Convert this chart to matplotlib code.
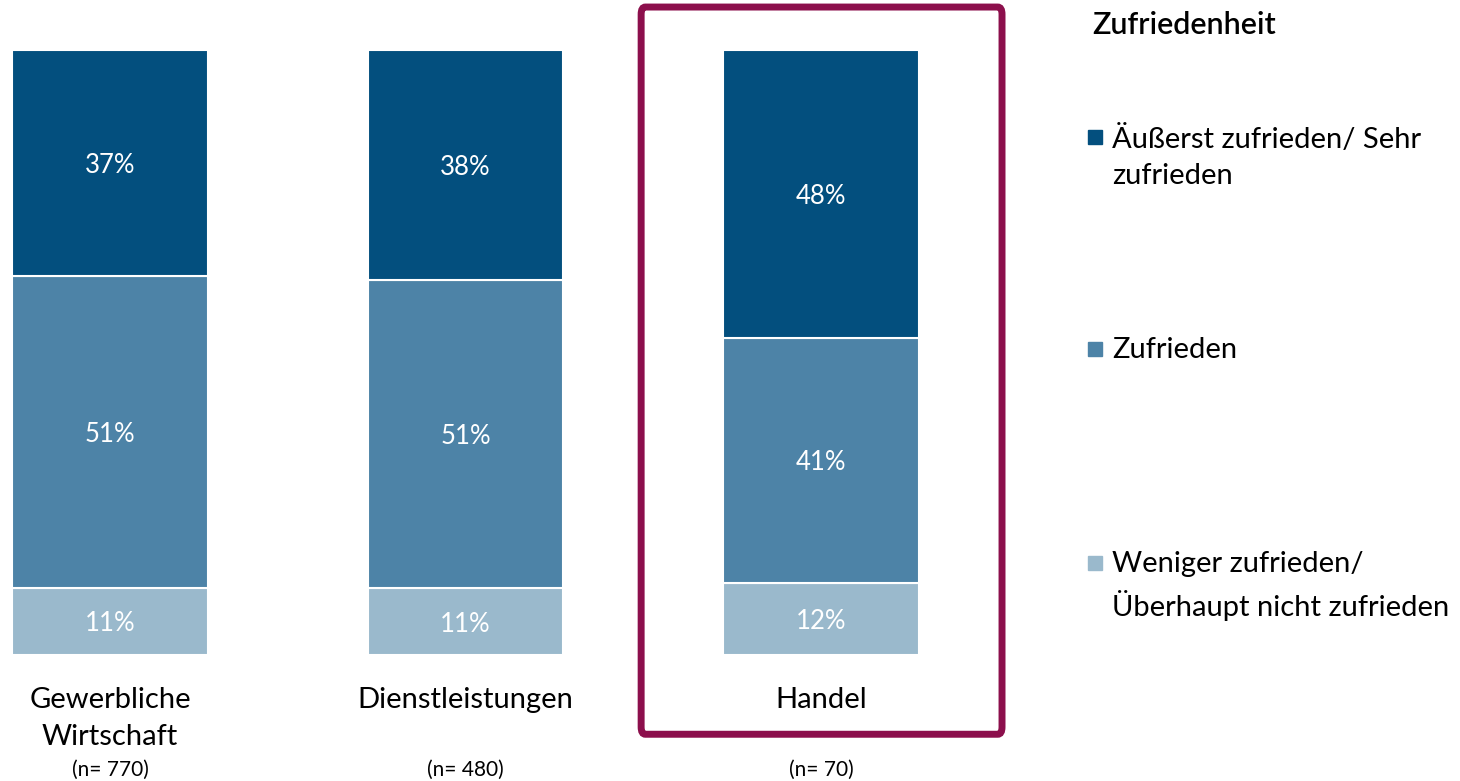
import matplotlib.pyplot as plt
from matplotlib.patches import FancyBboxPatch, Rectangle
import numpy as np

plt.rcParams['font.family'] = ['Lato', 'DejaVu Sans']

# Daten
categories = ['Gewerbliche\nWirtschaft', 'Dienstleistungen', 'Handel']
n_labels = ['(n= 770)', '(n= 480)', '(n= 70)']
series = ['Äußerst zufrieden/ Sehr\nzufrieden', 'Zufrieden', 'Weniger zufrieden/\nÜberhaupt nicht zufrieden']
sehr_zufrieden = [37, 38, 48]
zufrieden = [51, 51, 41]
weniger_zufrieden = [11, 11, 12]
colors = ['#034f7e', '#4d83a7', '#9ab9cc']

values = np.array([weniger_zufrieden, zufrieden, sehr_zufrieden], dtype=float)
shares = values / values.sum(axis=0)
x = np.arange(len(categories))

fig = plt.figure(figsize=(14.6, 7.81), dpi=100)
W, H = 1460, 781
ax = fig.add_axes([12 / W, 1 - 655 / H, (919 - 12) / W, (655 - 50) / H])

bar_w = 0.551
bottom = np.zeros(len(categories))
order = [2, 1, 0]  # index into series/colors for each stacked layer
for layer, s_idx in zip(range(3), order):
    ax.bar(x, shares[layer], bar_w, bottom=bottom, color=colors[s_idx],
           edgecolor='white', linewidth=1.5)
    for xi, b, h, v in zip(x, bottom, shares[layer], values[layer]):
        ax.text(xi, b + h / 2, f'{v:.0f}%', ha='center', va='center_baseline',
                color='white', fontsize=18.5)
    bottom += shares[layer]

ax.set_xlim(-bar_w / 2, 2 + bar_w / 2)
ax.set_ylim(0, 1)
ax.axis('off')

# Kategorienbeschriftung
for xi, cat, n in zip(x, categories, n_labels):
    ax.text(xi, -0.053, cat, ha='center', va='top', fontsize=21, linespacing=1.5)
    ax.text(xi, -0.19, n, ha='center', va='center', fontsize=15)

# Rahmen um Handel
box = FancyBboxPatch((1.494, -0.131), 1.015, 1.202,
                     boxstyle='round,pad=0,rounding_size=0.012',
                     fill=False, edgecolor='#8c0f4c', linewidth=5,
                     clip_on=False)
ax.add_patch(box)

# Legende
fig.text(1092 / W, 1 - 25 / H, 'Zufriedenheit', fontsize=22, fontweight='semibold',
         ha='left', va='center')
legend_y = [137, 349, 563]
for y, label, col in zip(legend_y, series, colors):
    fig.patches.append(Rectangle((1088 / W, 1 - (y + 7) / H), 14 / W, 14 / H,
                                 transform=fig.transFigure, color=col))
    fig.text(1112 / W, 1 - (y - 12) / H, label, fontsize=21, ha='left', va='top',
             linespacing=1.5)

fig.savefig('out.png', dpi=100)
